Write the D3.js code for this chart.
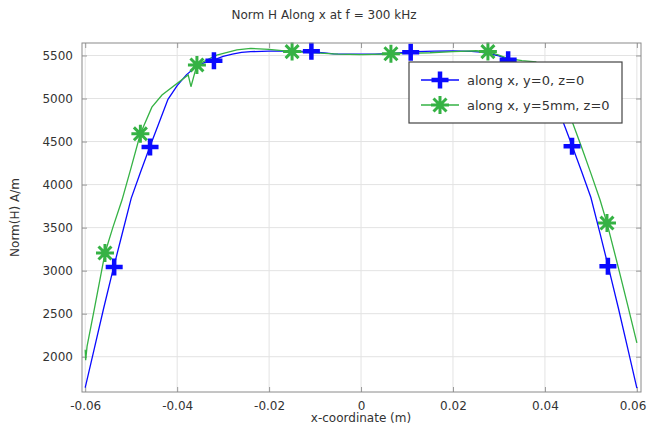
<!DOCTYPE html>
<html>
<head>
<meta charset="utf-8">
<script src="https://cdn.jsdelivr.net/npm/d3@7"></script>
<style>
  html, body { margin: 0; padding: 0; background: #fff; }
  svg { display: block; font-family: "DejaVu Sans", sans-serif; }
</style>
</head>
<body>
<svg id="chart" width="649" height="428"></svg>
<script>
// ---------- data ----------
const xTicks = [-0.06, -0.04, -0.02, 0, 0.02, 0.04, 0.06];
const yTicks = [2000, 2500, 3000, 3500, 4000, 4500, 5000, 5500];

const blueX = [-0.060, -0.058, -0.056, -0.054, -0.052, -0.050, -0.048, -0.046, -0.044, -0.042, -0.040, -0.038, -0.036, -0.034, -0.032, -0.030, -0.028, -0.026, -0.024, -0.020, -0.016, -0.012, -0.008, -0.006, -0.003, 0, 0.003, 0.006, 0.009, 0.012, 0.016, 0.020, 0.024, 0.026, 0.028, 0.030, 0.032, 0.034, 0.036, 0.038, 0.040, 0.042, 0.044, 0.046, 0.048, 0.050, 0.052, 0.054, 0.056, 0.058, 0.060];
const blueY = [1640, 2100, 2560, 3000, 3420, 3840, 4140, 4430, 4710, 4990, 5150, 5275, 5365, 5420, 5450, 5490, 5515, 5535, 5545, 5550, 5550, 5548, 5530, 5518, 5515, 5515, 5515, 5520, 5532, 5545, 5550, 5552, 5548, 5538, 5520, 5495, 5455, 5410, 5350, 5260, 5140, 4960, 4720, 4440, 4150, 3850, 3430, 3000, 2560, 2100, 1635];

const greenX = [-0.0600, -0.0599, -0.0596, -0.058, -0.056, -0.0557, -0.054, -0.052, -0.050, -0.048, -0.0455, -0.0433, -0.0376, -0.0370, -0.0357, -0.0314, -0.027, -0.024, -0.020, -0.015, -0.010, -0.005, 0, 0.005, 0.010, 0.015, 0.020, 0.025, 0.0276, 0.030, 0.032, 0.035, 0.038, 0.040, 0.042, 0.044, 0.046, 0.048, 0.050, 0.052, 0.0535, 0.056, 0.058, 0.060];
const greenY = [2080, 1960, 2120, 2560, 3120, 3205, 3500, 3820, 4200, 4590, 4900, 5040, 5274, 5137, 5390, 5505, 5565, 5583, 5570, 5545, 5530, 5515, 5510, 5515, 5525, 5532, 5545, 5555, 5545, 5505, 5465, 5440, 5425, 5320, 5140, 4950, 4720, 4430, 4130, 3820, 3553, 3030, 2600, 2160];

const blueMarkX = [-0.0537, -0.0459, -0.0320, -0.0108, 0.0108, 0.0320, 0.0459, 0.0537];
const blueMarkY = [3042, 4437, 5440, 5550, 5538, 5450, 4445, 3052];
const greenMarkX = [-0.0557, -0.0480, -0.0357, -0.0150, 0.0065, 0.0276, 0.0535];
const greenMarkY = [3205, 4590, 5390, 5545, 5520, 5545, 3553];

const seriesNames = ["along x, y=0, z=0", "along x, y=5mm, z=0"];

// ---------- setup ----------
const BLUE = "#0a0aff";
const GREEN = "#35b244";
const svg = d3.select("#chart");
const L = 82, R = 641, T = 43, B = 392;

const x = d3.scaleLinear().domain([-0.0607, 0.0609]).range([L, R]);
const y = d3.scaleLinear().domain([1590, 5645]).range([B, T]);

const fmtX = d => d === 0 ? "0" : (d < 0 ? "-" : "") + Math.abs(d).toFixed(2);

// gridlines
const grid = svg.append("g").attr("stroke", "#e3e3e3").attr("stroke-width", 1);
xTicks.forEach(t => grid.append("line").attr("x1", x(t)).attr("x2", x(t)).attr("y1", T).attr("y2", B));
yTicks.forEach(t => grid.append("line").attr("x1", L).attr("x2", R).attr("y1", y(t)).attr("y2", y(t)));

// axes with inward ticks
const axB = svg.append("g").attr("transform", `translate(0,${B})`)
  .call(d3.axisBottom(x).tickValues(xTicks).tickFormat(fmtX).tickSizeInner(-5).tickSizeOuter(0).tickPadding(9));
const axL = svg.append("g").attr("transform", `translate(${L},0)`)
  .call(d3.axisLeft(y).tickValues(yTicks).tickFormat(d3.format("d")).tickSizeInner(-5).tickSizeOuter(0).tickPadding(9));
const axT = svg.append("g").attr("transform", `translate(0,${T})`)
  .call(d3.axisTop(x).tickValues(xTicks).tickFormat("").tickSizeInner(-5).tickSizeOuter(0));
const axR = svg.append("g").attr("transform", `translate(${R},0)`)
  .call(d3.axisRight(y).tickValues(yTicks).tickFormat("").tickSizeInner(-5).tickSizeOuter(0));
[axB, axL, axT, axR].forEach(a => {
  a.select(".domain").remove();
  a.selectAll(".tick line").attr("stroke", "#999");
  a.selectAll("text").attr("fill", "#333").style("font-size", "12px").style("font-family", "DejaVu Sans, sans-serif");
});
// keep last x label inside the window
axB.selectAll(".tick text").filter(d => d === 0.06).attr("text-anchor", "end").attr("dx", "9");

// clip for data
svg.append("clipPath").attr("id", "clip").append("rect")
  .attr("x", L).attr("y", T).attr("width", R - L).attr("height", B - T);

const line = d3.line().x(d => x(d[0])).y(d => y(d[1]));
const dataG = svg.append("g").attr("clip-path", "url(#clip)");

const blueData = blueX.map((v, i) => [v, blueY[i]]);
const greenData = greenX.map((v, i) => [v, greenY[i]]);

dataG.append("path").datum(blueData).attr("d", line)
  .attr("fill", "none").attr("stroke", BLUE).attr("stroke-width", 1.3);
dataG.append("path").datum(greenData).attr("d", line)
  .attr("fill", "none").attr("stroke", GREEN).attr("stroke-width", 1.3);

function plusMarker(g, cx, cy) {
  const s = 8.5;
  g.append("path").attr("d", `M${cx - s},${cy}H${cx + s}M${cx},${cy - s}V${cy + s}`)
    .attr("stroke", BLUE).attr("stroke-width", 4.5).attr("fill", "none");
}
function starMarker(g, cx, cy) {
  const s = 9, d = s * 0.72;
  g.append("path").attr("d",
    `M${cx - s},${cy}H${cx + s}M${cx},${cy - s}V${cy + s}M${cx - d},${cy - d}L${cx + d},${cy + d}M${cx - d},${cy + d}L${cx + d},${cy - d}`)
    .attr("stroke", GREEN).attr("stroke-width", 3).attr("fill", "none");
}
const markG = svg.append("g");
greenMarkX.forEach((v, i) => starMarker(markG, x(v), y(greenMarkY[i])));
blueMarkX.forEach((v, i) => plusMarker(markG, x(v), y(blueMarkY[i])));

// frame
svg.append("rect").attr("x", L).attr("y", T).attr("width", R - L).attr("height", B - T)
  .attr("fill", "none").attr("stroke", "#8a8a8a").attr("stroke-width", 1);

// legend
const lg = svg.append("g");
lg.append("rect").attr("x", 409).attr("y", 62).attr("width", 213).attr("height", 61)
  .attr("fill", "#fff").attr("stroke", "#444").attr("stroke-width", 1.2);
[0, 1].forEach(i => {
  const cy = 80 + i * 25;
  lg.append("line").attr("x1", 421).attr("x2", 459).attr("y1", cy).attr("y2", cy)
    .attr("stroke", i === 0 ? BLUE : GREEN).attr("stroke-width", 1.5);
  if (i === 0) plusMarker(lg, 440, cy); else starMarker(lg, 440, cy);
  lg.append("text").attr("x", 467).attr("y", cy + 4.5).text(seriesNames[i])
    .attr("fill", "#333").style("font-size", "13px");
});

// title & labels
svg.append("text").attr("x", 324).attr("y", 19).attr("text-anchor", "middle")
  .attr("fill", "#333").style("font-size", "12px").text("Norm H Along x at f = 300 kHz");
svg.append("text").attr("x", 361).attr("y", 422).attr("text-anchor", "middle")
  .attr("fill", "#333").style("font-size", "12px").text("x-coordinate (m)");
svg.append("text").attr("transform", `translate(19,${(T + B) / 2}) rotate(-90)`).attr("text-anchor", "middle")
  .attr("fill", "#333").style("font-size", "12px").text("Norm(H) A/m");
</script>
</body>
</html>
